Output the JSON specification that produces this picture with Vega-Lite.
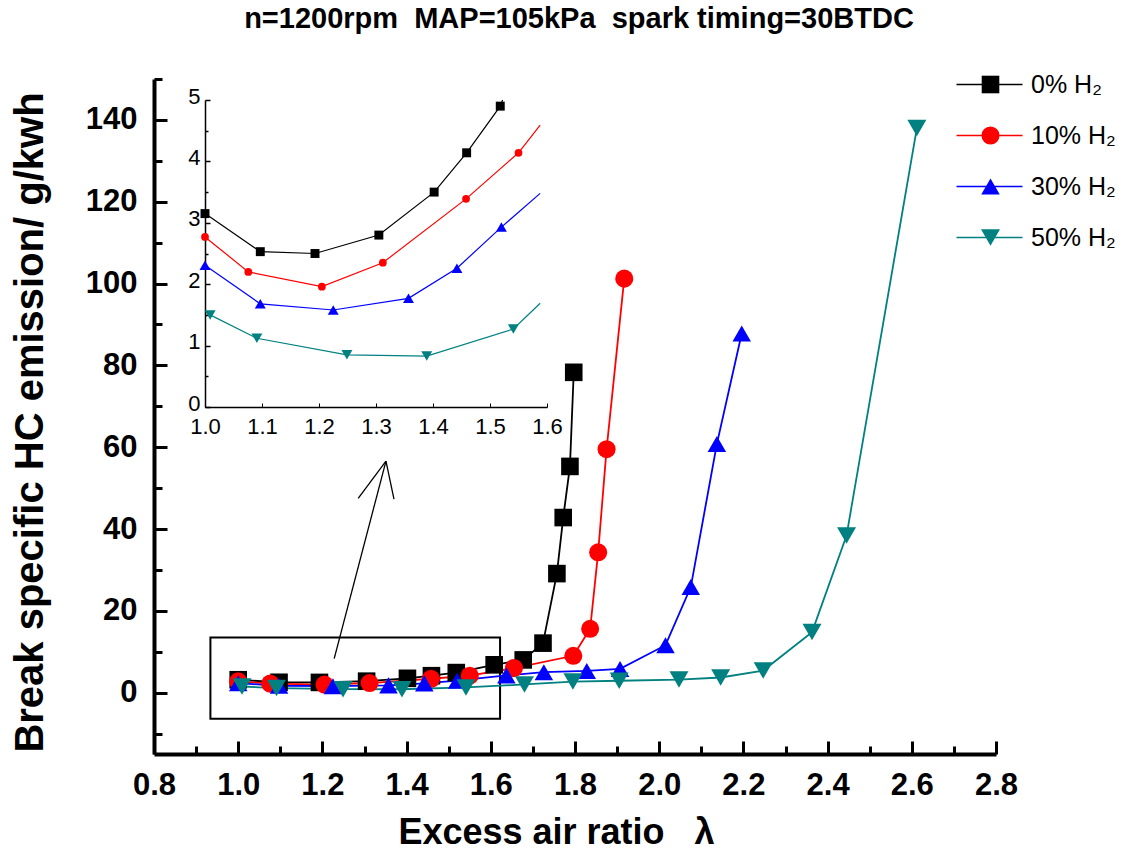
{
  "$schema": "https://vega.github.io/schema/vega-lite/v6.json",
  "width": 842,
  "height": 675,
  "autosize": {"type": "none"},
  "padding": {"left": 154, "top": 79, "right": 134, "bottom": 100},
  "background": "white",
  "config": {"view": {"stroke": null}, "axis": {"grid": false}, "font": "Liberation Sans"},
  "title": {"text": "n=1200rpm\u00a0\u00a0MAP=105kPa\u00a0\u00a0spark timing=30BTDC", "fontSize": 29, "fontWeight": "bold", "font": "Liberation Sans", "frame": "group", "offset": 29, "anchor": "middle", "dx": 4, "color": "black"},
  "datasets": {
    "main": [
      {"h": 0, "lab": "0% H₂", "lam": 1.0, "v": 3.15}, {"h": 0, "lab": "0% H₂", "lam": 1.097, "v": 2.53}, {"h": 0, "lab": "0% H₂", "lam": 1.193, "v": 2.5}, {"h": 0, "lab": "0% H₂", "lam": 1.305, "v": 2.8}, {"h": 0, "lab": "0% H₂", "lam": 1.402, "v": 3.5}, {"h": 0, "lab": "0% H₂", "lam": 1.459, "v": 4.14}, {"h": 0, "lab": "0% H₂", "lam": 1.518, "v": 4.9}, {"h": 0, "lab": "0% H₂", "lam": 1.608, "v": 6.8}, {"h": 0, "lab": "0% H₂", "lam": 1.677, "v": 8.0}, {"h": 0, "lab": "0% H₂", "lam": 1.724, "v": 12.1}, {"h": 0, "lab": "0% H₂", "lam": 1.757, "v": 29.1}, {"h": 0, "lab": "0% H₂", "lam": 1.772, "v": 42.8}, {"h": 0, "lab": "0% H₂", "lam": 1.788, "v": 55.3}, {"h": 0, "lab": "0% H₂", "lam": 1.797, "v": 78.3},
      {"h": 10, "lab": "10% H₂", "lam": 1.0, "v": 2.77}, {"h": 10, "lab": "10% H₂", "lam": 1.076, "v": 2.2}, {"h": 10, "lab": "10% H₂", "lam": 1.205, "v": 1.96}, {"h": 10, "lab": "10% H₂", "lam": 1.312, "v": 2.35}, {"h": 10, "lab": "10% H₂", "lam": 1.458, "v": 3.39}, {"h": 10, "lab": "10% H₂", "lam": 1.55, "v": 4.14}, {"h": 10, "lab": "10% H₂", "lam": 1.655, "v": 6.0}, {"h": 10, "lab": "10% H₂", "lam": 1.796, "v": 9.0}, {"h": 10, "lab": "10% H₂", "lam": 1.836, "v": 15.6}, {"h": 10, "lab": "10% H₂", "lam": 1.855, "v": 34.3}, {"h": 10, "lab": "10% H₂", "lam": 1.875, "v": 59.5}, {"h": 10, "lab": "10% H₂", "lam": 1.917, "v": 101.2},
      {"h": 30, "lab": "30% H₂", "lam": 1.0, "v": 2.31}, {"h": 30, "lab": "30% H₂", "lam": 1.097, "v": 1.68}, {"h": 30, "lab": "30% H₂", "lam": 1.225, "v": 1.58}, {"h": 30, "lab": "30% H₂", "lam": 1.357, "v": 1.77}, {"h": 30, "lab": "30% H₂", "lam": 1.442, "v": 2.26}, {"h": 30, "lab": "30% H₂", "lam": 1.52, "v": 2.93}, {"h": 30, "lab": "30% H₂", "lam": 1.637, "v": 4.2}, {"h": 30, "lab": "30% H₂", "lam": 1.726, "v": 5.0}, {"h": 30, "lab": "30% H₂", "lam": 1.828, "v": 5.3}, {"h": 30, "lab": "30% H₂", "lam": 1.907, "v": 5.8}, {"h": 30, "lab": "30% H₂", "lam": 2.015, "v": 11.6}, {"h": 30, "lab": "30% H₂", "lam": 2.075, "v": 25.8}, {"h": 30, "lab": "30% H₂", "lam": 2.137, "v": 60.8}, {"h": 30, "lab": "30% H₂", "lam": 2.196, "v": 87.8},
      {"h": 50, "lab": "50% H₂", "lam": 1.009, "v": 1.5}, {"h": 50, "lab": "50% H₂", "lam": 1.091, "v": 1.12}, {"h": 50, "lab": "50% H₂", "lam": 1.249, "v": 0.85}, {"h": 50, "lab": "50% H₂", "lam": 1.389, "v": 0.83}, {"h": 50, "lab": "50% H₂", "lam": 1.541, "v": 1.27}, {"h": 50, "lab": "50% H₂", "lam": 1.68, "v": 2.0}, {"h": 50, "lab": "50% H₂", "lam": 1.795, "v": 2.7}, {"h": 50, "lab": "50% H₂", "lam": 1.905, "v": 2.9}, {"h": 50, "lab": "50% H₂", "lam": 2.047, "v": 3.2}, {"h": 50, "lab": "50% H₂", "lam": 2.146, "v": 3.7}, {"h": 50, "lab": "50% H₂", "lam": 2.247, "v": 5.4}, {"h": 50, "lab": "50% H₂", "lam": 2.363, "v": 14.8}, {"h": 50, "lab": "50% H₂", "lam": 2.445, "v": 38.4}, {"h": 50, "lab": "50% H₂", "lam": 2.612, "v": 138}
    ],
    "inset": [
      {"h": 0, "lam": 1.0, "v": 3.15, "m": true}, {"h": 0, "lam": 1.097, "v": 2.53, "m": true}, {"h": 0, "lam": 1.193, "v": 2.5, "m": true}, {"h": 0, "lam": 1.305, "v": 2.8, "m": true}, {"h": 0, "lam": 1.402, "v": 3.5, "m": true}, {"h": 0, "lam": 1.459, "v": 4.14, "m": true}, {"h": 0, "lam": 1.518, "v": 4.9, "m": true}, {"h": 0, "lam": 1.522, "v": 5.0, "m": false},
      {"h": 10, "lam": 1.0, "v": 2.77, "m": true}, {"h": 10, "lam": 1.076, "v": 2.2, "m": true}, {"h": 10, "lam": 1.205, "v": 1.96, "m": true}, {"h": 10, "lam": 1.312, "v": 2.35, "m": true}, {"h": 10, "lam": 1.458, "v": 3.39, "m": true}, {"h": 10, "lam": 1.55, "v": 4.14, "m": true}, {"h": 10, "lam": 1.588, "v": 4.59, "m": false},
      {"h": 30, "lam": 1.0, "v": 2.31, "m": true}, {"h": 30, "lam": 1.097, "v": 1.68, "m": true}, {"h": 30, "lam": 1.225, "v": 1.58, "m": true}, {"h": 30, "lam": 1.357, "v": 1.77, "m": true}, {"h": 30, "lam": 1.442, "v": 2.26, "m": true}, {"h": 30, "lam": 1.52, "v": 2.93, "m": true}, {"h": 30, "lam": 1.588, "v": 3.48, "m": false},
      {"h": 50, "lam": 1.009, "v": 1.5, "m": true}, {"h": 50, "lam": 1.091, "v": 1.12, "m": true}, {"h": 50, "lam": 1.249, "v": 0.85, "m": true}, {"h": 50, "lam": 1.389, "v": 0.83, "m": true}, {"h": 50, "lam": 1.541, "v": 1.27, "m": true}, {"h": 50, "lam": 1.588, "v": 1.69, "m": false}
    ]
  },
  "layer": [
    {
      "layer": [
        {
          "data": {"values": [{"lam": 0.934, "lam2": 1.622, "v": -6.4, "v2": 13.5}]},
          "mark": {"type": "rect", "fill": "transparent", "stroke": "black", "strokeWidth": 2},
          "encoding": {
            "x": {"field": "lam", "type": "quantitative", "scale": {"domain": [0.8, 2.8], "nice": false, "zero": false}},
            "x2": {"field": "lam2"},
            "y": {"field": "v", "type": "quantitative", "scale": {"domain": [-15, 150], "nice": false, "zero": false}},
            "y2": {"field": "v2"}
          }
        },
        {
          "data": {"values": [{"lam": 1.228, "v": 8.3, "lam2": 1.351, "v2": 56.6}, {"lam": 1.351, "v": 56.6, "lam2": 1.285, "v2": 47.5}, {"lam": 1.351, "v": 56.6, "lam2": 1.37, "v2": 47.3}]},
          "mark": {"type": "rule", "color": "black", "strokeWidth": 1.3},
          "encoding": {
            "x": {"field": "lam", "type": "quantitative", "scale": {"domain": [0.8, 2.8], "nice": false, "zero": false}},
            "x2": {"field": "lam2"},
            "y": {"field": "v", "type": "quantitative", "scale": {"domain": [-15, 150], "nice": false, "zero": false}},
            "y2": {"field": "v2"}
          }
        },
        {
          "data": {"name": "main"},
          "mark": {"type": "line", "strokeWidth": 1.8},
          "encoding": {
            "x": {"field": "lam", "type": "quantitative", "scale": {"domain": [0.8, 2.8], "nice": false, "zero": false},
              "axis": {"orient": "bottom", "title": "Excess air ratio\u00a0\u00a0\u00a0λ", "titleFontSize": 36, "titleFontWeight": "bold", "titleColor": "black", "titleX": 402, "titleY": 78, "titleBaseline": "middle", "titleAlign": "center",
                "values": [0.8, 0.9, 1.0, 1.1, 1.2, 1.3, 1.4, 1.5, 1.6, 1.7, 1.8, 1.9, 2.0, 2.1, 2.2, 2.3, 2.4, 2.5, 2.6, 2.7, 2.8],
                "labelExpr": "abs(round(datum.value*10)) % 2 == 0 ? format(datum.value, '.1f') : ''",
                "tickSize": {"condition": {"test": "abs(round(datum.value*10)) % 2 == 0", "value": -13}, "value": -8},
                "tickWidth": 3, "tickColor": "black", "domainWidth": 4, "domainColor": "black", "labelFontSize": 31, "labelFontWeight": "bold", "labelColor": "black", "labelPadding": 29, "labelFlush": false, "labelOverlap": false}},
            "y": {"field": "v", "type": "quantitative", "scale": {"domain": [-15, 150], "nice": false, "zero": false},
              "axis": {"orient": "left", "title": "Break specific HC emission/ g/kwh", "titleFontSize": 40, "titleFontWeight": "bold", "titleColor": "black", "titleX": -124, "titleY": 343, "titleAngle": 270, "titleBaseline": "middle", "titleAlign": "center",
                "values": [-10, 0, 10, 20, 30, 40, 50, 60, 70, 80, 90, 100, 110, 120, 130, 140, 150],
                "labelExpr": "datum.value >= 0 && datum.value % 20 == 0 ? format(datum.value, 'd') : ''",
                "tickSize": {"condition": {"test": "datum.value % 20 == 0", "value": -13}, "value": -8},
                "tickWidth": 3, "tickColor": "black", "domainWidth": 4, "domainColor": "black", "labelFontSize": 31, "labelFontWeight": "bold", "labelColor": "black", "labelPadding": 30, "labelFlush": false, "labelOverlap": false}},
            "stroke": {"field": "lab", "type": "nominal", "scale": {"domain": ["0% H₂", "10% H₂", "30% H₂", "50% H₂"], "range": ["#000000", "#ff0000", "#0000ff", "#008080"]},
              "legend": {"orient": "none", "legendX": 823, "legendY": -7, "title": null, "symbolType": "M-3,0H3", "symbolSize": 484, "symbolStrokeWidth": 1.5, "labelFontSize": 25, "labelFont": "Liberation Sans", "labelColor": "black", "labelOffset": 29, "rowPadding": 25}}
          }
        },
        {
          "data": {"name": "main"},
          "mark": {"type": "point", "filled": true, "opacity": 1},
          "encoding": {
            "x": {"field": "lam", "type": "quantitative", "scale": {"domain": [0.8, 2.8], "nice": false, "zero": false}},
            "y": {"field": "v", "type": "quantitative", "scale": {"domain": [-15, 150], "nice": false, "zero": false}},
            "size": {"field": "h", "type": "nominal", "scale": {"domain": [0, 10, 30, 50], "range": [310, 360, 460, 460]}, "legend": null},
            "color": {"field": "h", "type": "nominal", "scale": {"domain": [0, 10, 30, 50], "range": ["#000000", "#ff0000", "#0000ff", "#008080"]},
              "legend": {"orient": "none", "legendX": 824, "legendY": -7, "title": null, "symbolSize": 330, "symbolStrokeWidth": 0, "symbolOpacity": 1, "labelFontSize": 25, "labelFont": "Liberation Sans", "labelOpacity": 0, "labelExpr": "' '", "labelOffset": 29, "rowPadding": 25}},
            "shape": {"field": "h", "type": "nominal", "scale": {"domain": [0, 10, 30, 50], "range": ["square", "circle", "triangle-up", "triangle-down"]},
              "legend": {"orient": "none", "legendX": 824, "legendY": -7, "title": null, "symbolSize": 330, "symbolStrokeWidth": 0, "symbolOpacity": 1, "labelFontSize": 25, "labelFont": "Liberation Sans", "labelOpacity": 0, "labelExpr": "' '", "labelOffset": 29, "rowPadding": 25}}
          }
        }
      ]
    },
    {
      "layer": [
        {
          "data": {"name": "inset"},
          "mark": {"type": "line", "strokeWidth": 1.2},
          "encoding": {
            "x": {"field": "lam", "type": "quantitative", "scale": {"domain": [1.0, 1.6], "range": [51, 393], "nice": false, "zero": false},
              "axis": {"orient": "bottom", "offset": -347, "title": null, "values": [1.0, 1.1, 1.2, 1.3, 1.4, 1.5, 1.6], "format": ".1f", "labelFont": "Liberation Sans", "labelFontSize": 22, "labelFontWeight": "normal", "labelColor": "black", "tickSize": -4, "tickWidth": 1, "tickColor": "black", "domainWidth": 1.5, "domainColor": "black", "labelPadding": 13, "labelFlush": false, "labelOverlap": false}},
            "y": {"field": "v", "type": "quantitative", "scale": {"domain": [0, 5], "range": [328, 21], "nice": false, "zero": false},
              "axis": {"orient": "left", "offset": -51, "title": null, "values": [0, 0.5, 1, 1.5, 2, 2.5, 3, 3.5, 4, 4.5, 5], "labelExpr": "datum.value % 1 == 0 ? format(datum.value, 'd') : ''", "labelFont": "Liberation Sans", "labelFontSize": 22, "labelFontWeight": "normal", "labelColor": "black", "labelOffset": -4, "tickSize": {"condition": {"test": "datum.value % 1 == 0", "value": -5}, "value": -3}, "tickWidth": 1.5, "tickColor": "black", "domainWidth": 1.5, "domainColor": "black", "labelPadding": 10, "labelFlush": false, "labelOverlap": false}},
            "color": {"field": "h", "type": "nominal", "legend": null}
          }
        },
        {
          "data": {"name": "inset"},
          "transform": [{"filter": "datum.m && datum.h == 0"}],
          "mark": {"type": "point", "shape": "square", "filled": true, "size": 80, "opacity": 1},
          "encoding": {
            "x": {"field": "lam", "type": "quantitative"},
            "y": {"field": "v", "type": "quantitative"},
            "color": {"field": "h", "type": "nominal", "legend": null}
          }
        },
        {
          "data": {"name": "inset"},
          "transform": [{"filter": "datum.m && datum.h == 10"}],
          "mark": {"type": "point", "shape": "circle", "filled": true, "size": 60, "opacity": 1},
          "encoding": {
            "x": {"field": "lam", "type": "quantitative"},
            "y": {"field": "v", "type": "quantitative"},
            "color": {"field": "h", "type": "nominal", "legend": null}
          }
        },
        {
          "data": {"name": "inset"},
          "transform": [{"filter": "datum.m && datum.h == 30"}],
          "mark": {"type": "point", "shape": "triangle-up", "filled": true, "size": 120, "opacity": 1},
          "encoding": {
            "x": {"field": "lam", "type": "quantitative"},
            "y": {"field": "v", "type": "quantitative"},
            "color": {"field": "h", "type": "nominal", "legend": null}
          }
        },
        {
          "data": {"name": "inset"},
          "transform": [{"filter": "datum.m && datum.h == 50"}],
          "mark": {"type": "point", "shape": "triangle-down", "filled": true, "size": 120, "opacity": 1},
          "encoding": {
            "x": {"field": "lam", "type": "quantitative"},
            "y": {"field": "v", "type": "quantitative"},
            "color": {"field": "h", "type": "nominal", "legend": null}
          }
        }
      ]
    }
  ],
  "resolve": {"scale": {"x": "independent", "y": "independent"}, "axis": {"x": "independent", "y": "independent"}}
}
